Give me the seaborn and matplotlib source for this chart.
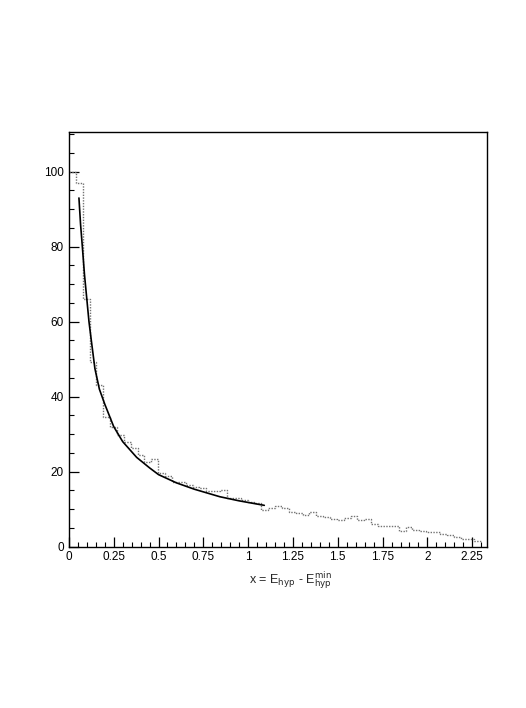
import numpy as np
import pandas as pd
import matplotlib
matplotlib.use("Agg")
import matplotlib.pyplot as plt
from matplotlib.ticker import MultipleLocator
import seaborn as sns

# ---- data ----
hist_counts = [100, 97, 66, 49.3, 43.1, 34.7, 32.0, 29.8, 28.0, 26.2,
               24.5, 22.5, 23.3, 19.6, 18.9, 17.1, 17.3, 16.4, 15.9, 15.6,
               14.7, 14.7, 15.0, 12.9, 12.9, 12.5, 11.8, 11.6, 9.8, 10.2,
               10.9, 10.2, 9.3, 8.9, 8.5, 9.3, 8.2, 7.8, 7.4, 7.0,
               7.6, 8.1, 7.0, 7.4, 6.0, 5.6, 5.6, 5.4, 4.2, 5.3,
               4.4, 4.1, 4.0, 3.8, 3.4, 3.2, 2.5, 2.0, 2.0, 1.5]
hist_lo, hist_hi = 0.0, 2.3

fit_x = [0.056, 0.065, 0.075, 0.087, 0.1, 0.112, 0.125, 0.145, 0.17, 0.2,
         0.25, 0.3, 0.378, 0.45, 0.5, 0.6, 0.7, 0.842, 0.95, 1.09]
fit_y = [93.0, 86.0, 80.0, 72.5, 66.0, 60.0, 55.0, 47.5, 42.0, 38.0,
         32.0, 28.0, 23.8, 21.0, 19.2, 17.0, 15.3, 13.3, 12.2, 11.0]

xticks = [0, 0.25, 0.5, 0.75, 1, 1.25, 1.5, 1.75, 2, 2.25]
xtick_labels = ["0", "0.25", "0.5", "0.75", "1", "1.25", "1.5", "1.75", "2", "2.25"]
yticks = [0, 20, 40, 60, 80, 100]

# ---- plotting ----
sns.set_style("ticks")
plt.rcParams["font.family"] = ["Liberation Sans", "DejaVu Sans"]

fig = plt.figure(figsize=(5.26, 7.08), dpi=100)
ax = fig.add_axes([0.131, 0.228, 0.795, 0.585])

nbins = len(hist_counts)
width = (hist_hi - hist_lo) / nbins
centers = [hist_lo + (i + 0.5) * width for i in range(nbins)]
dfh = pd.DataFrame({"x": centers, "w": hist_counts})
sns.histplot(data=dfh, x="x", weights="w", bins=nbins,
             binrange=(hist_lo, hist_hi), element="step",
             fill=False, color="0.45", linewidth=1.0, linestyle=(0, (1, 1)),
             ax=ax)

dff = pd.DataFrame({"x": fit_x, "y": fit_y})
sns.lineplot(data=dff, x="x", y="y", color="black", linewidth=1.2, ax=ax)

ax.set_xlim(0, 2.333)
ax.set_ylim(0, 110.5)
ax.set_xticks(xticks)
ax.set_xticklabels(xtick_labels)
ax.set_yticks(yticks)
ax.xaxis.set_minor_locator(MultipleLocator(0.05))
ax.yaxis.set_minor_locator(MultipleLocator(5))
ax.tick_params(which="both", direction="in", top=False, right=False,
               labelsize=8.5, colors="black")
ax.tick_params(which="major", length=7, width=0.9)
ax.tick_params(which="minor", length=3.5, width=0.8)
for s in ax.spines.values():
    s.set_visible(True)
    s.set_linewidth(1.0)
    s.set_color("black")

ax.set_ylabel("")
ax.set_xlabel(r"x = E$_{\mathrm{hyp}}$ - E$_{\mathrm{hyp}}^{\mathrm{min}}$",
              fontsize=9)
ax.xaxis.set_label_coords(0.53, -0.055)

fig.savefig("out.png", dpi=100)
